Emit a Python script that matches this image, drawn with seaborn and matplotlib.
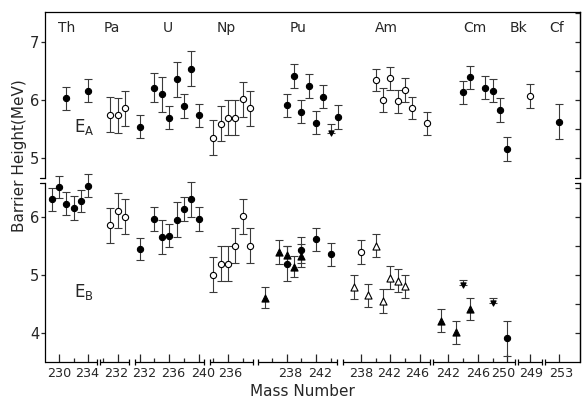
import numpy as np
import pandas as pd
import matplotlib
matplotlib.use("Agg")
import matplotlib.pyplot as plt
import matplotlib.transforms as mtransforms
import seaborn as sns

# ---------------- data ----------------
elements = ["Th", "Pa", "U", "Np", "Pu", "Am", "Cm", "Bk", "Cf"]

# E_A (outer/first barrier)
ea_element = ["Th", "Th",
              "Pa", "Pa", "Pa",
              "U", "U", "U", "U", "U", "U", "U", "U",
              "Np", "Np", "Np", "Np", "Np", "Np",
              "Pu", "Pu", "Pu", "Pu", "Pu", "Pu", "Pu", "Pu",
              "Am", "Am", "Am", "Am", "Am", "Am", "Am",
              "Cm", "Cm", "Cm", "Cm", "Cm", "Cm",
              "Bk", "Cf"]
ea_mass = [231, 234,
           231, 232, 233,
           232, 234, 235, 236, 237, 238, 239, 240,
           234, 235, 236, 237, 238, 239,
           238, 239, 240, 241, 242, 243, 244, 245,
           240, 241, 242, 243, 244, 245, 247,
           244, 245, 247, 248, 249, 250,
           249, 253]
ea_value = [6.03, 6.16,
            5.75, 5.74, 5.86,
            5.54, 6.21, 6.10, 5.70, 6.36, 5.90, 6.54, 5.74,
            5.35, 5.59, 5.70, 5.70, 6.01, 5.86,
            5.91, 6.41, 5.80, 6.24, 5.61, 6.06, 5.43, 5.71,
            6.34, 6.00, 6.37, 5.98, 6.17, 5.87, 5.60,
            6.13, 6.39, 6.21, 6.16, 5.83, 5.16,
            6.07, 5.63]
ea_error = [0.20, 0.20,
            0.30, 0.30, 0.30,
            0.20, 0.25, 0.30, 0.20, 0.30, 0.20, 0.30, 0.20,
            0.30, 0.30, 0.30, 0.30, 0.30, 0.30,
            0.20, 0.20, 0.20, 0.20, 0.20, 0.20, 0.16, 0.20,
            0.19, 0.20, 0.20, 0.20, 0.20, 0.19, 0.20,
            0.20, 0.20, 0.20, 0.20, 0.20, 0.20,
            0.20, 0.30]
ea_kind = ["filled", "filled",
           "open", "open", "open",
           "filled", "filled", "filled", "filled", "filled", "filled", "filled", "filled",
           "open", "open", "open", "open", "open", "open",
           "filled", "filled", "filled", "filled", "filled", "filled", "limit", "filled",
           "open", "open", "open", "open", "open", "open", "open",
           "filled", "filled", "filled", "filled", "filled", "filled",
           "open", "filled"]

# E_B (second barrier)
eb_element = ["Th", "Th", "Th", "Th", "Th", "Th",
              "Pa", "Pa", "Pa",
              "U", "U", "U", "U", "U", "U", "U", "U",
              "Np", "Np", "Np", "Np", "Np", "Np",
              "Pu", "Pu", "Pu", "Pu", "Pu", "Pu", "Pu", "Pu", "Pu",
              "Am", "Am", "Am", "Am", "Am", "Am", "Am", "Am",
              "Cm", "Cm", "Cm", "Cm", "Cm", "Cm"]
eb_mass = [229, 230, 231, 232, 233, 234,
           231, 232, 233,
           232, 234, 235, 236, 237, 238, 239, 240,
           234, 235, 236, 237, 238, 239,
           235, 237, 238, 238, 239, 240, 240, 242, 244,
           237, 238, 239, 240, 241, 242, 243, 244,
           241, 243, 244, 245, 248, 250]
eb_value = [6.30, 6.51, 6.22, 6.15, 6.27, 6.53,
            5.85, 6.10, 6.00,
            5.45, 5.96, 5.65, 5.67, 5.95, 6.13, 6.30, 5.96,
            5.00, 5.19, 5.19, 5.50, 6.01, 5.50,
            4.61, 5.39, 5.34, 5.19, 5.14, 5.43, 5.33, 5.61, 5.35,
            4.79, 5.39, 4.65, 5.50, 4.55, 4.95, 4.90, 4.80,
            4.21, 4.01, 4.83, 4.41, 4.51, 3.91]
eb_error = [0.20, 0.19, 0.20, 0.20, 0.19, 0.20,
            0.30, 0.30, 0.30,
            0.19, 0.20, 0.30, 0.20, 0.30, 0.20, 0.30, 0.21,
            0.30, 0.30, 0.30, 0.30, 0.30, 0.30,
            0.18, 0.20, 0.15, 0.30, 0.18, 0.22, 0.20, 0.20, 0.20,
            0.20, 0.20, 0.20, 0.20, 0.20, 0.20, 0.20, 0.20,
            0.20, 0.20, 0.08, 0.19, 0.09, 0.30]
eb_kind = ["filled"] * 6 + \
          ["open"] * 3 + \
          ["filled"] * 8 + \
          ["open"] * 6 + \
          ["tri", "tri", "tri", "filled", "tri", "filled", "tri", "filled", "filled"] + \
          ["otri", "open", "otri", "otri", "otri", "otri", "otri", "otri"] + \
          ["tri", "tri", "limit", "tri", "limit", "filled"]

# x-axis tick labels per element
tick_labels = [[230, 234], [232], [232, 236, 240], [236], [238, 242],
               [238, 242, 246], [242, 246, 250], [249], [253]]
tick_minor = [[232], [230], [234, 238], [234, 238], [236, 240, 244],
              [240, 244], [244, 248], [], []]

# ---------------- layout constants ----------------
element_shift = [0.0, 6.0, 9.0, 17.0, 23.0, 33.1, 41.0, 45.1, 45.1]
segment_lo = [228.1, 229.55, 231.3, 233.5, 234.1, 235.5, 239.9, 247.3, 251.0]
segment_hi = [235.15, 233.6, 240.8, 239.4, 244.8, 247.4, 251.0, 250.6, 255.8]
label_shift_px = [[0, -1], [-2], [4, 4.5, 4.5], [2.5], [3.5, 3.5],
                  [0, -1.5, -2.5], [0, 0, -4], [1.5], [2]]
name_u = [231.1, 237.2, 244.8, 252.8, 262.5, 274.6, 286.6, 292.6, 297.7]
XMIN, XMAX = 228.1, 300.9
shift_map = dict(zip(elements, element_shift))

sns.set_style("ticks")
plt.rcParams["font.family"] = ["DejaVu Sans"]
plt.rcParams["mathtext.fontset"] = "dejavusans"

fig = plt.figure(figsize=(5.82, 3.98), dpi=100)
ax_top = fig.add_axes([0.0773, 0.552, 0.9192, 0.4186])
ax_bot = fig.add_axes([0.0773, 0.0912, 0.9192, 0.4498])

styles = {
    "filled": dict(marker="o", s=20, face="black"),
    "open": dict(marker="o", s=20, face="white"),
    "tri": dict(marker="^", s=26, face="black"),
    "otri": dict(marker="^", s=26, face="white"),
    "limit": dict(marker="v", s=14, face="black"),
}
ECOL = "#3a3a3a"


def draw(ax, elem, mass, val, err, kind):
    df = pd.DataFrame(dict(element=elem, mass=mass, value=val, err=err, kind=kind))
    df["u"] = df["mass"] + df["element"].map(shift_map)
    df["lo"] = np.where(df["kind"] == "limit", 0.0, df["err"])
    ax.errorbar(df["u"], df["value"], yerr=[df["lo"], df["err"]], fmt="none",
                ecolor=ECOL, elinewidth=0.8, capsize=2.6, capthick=0.8,
                zorder=2, clip_on=False)
    for k, st in styles.items():
        sub = df[df["kind"] == k]
        if len(sub) == 0:
            continue
        sns.scatterplot(data=sub, x="u", y="value", ax=ax, marker=st["marker"],
                        s=st["s"], color=st["face"], edgecolor="black",
                        linewidth=0.8, zorder=3, clip_on=False, legend=False)


draw(ax_top, ea_element, ea_mass, ea_value, ea_error, ea_kind)
draw(ax_bot, eb_element, eb_mass, eb_value, eb_error, eb_kind)

for ax, lo, hi, ticks in [(ax_top, 4.657, 7.515, [5, 6, 7]),
                          (ax_bot, 3.508, 6.583, [4, 5, 6])]:
    ax.patch.set_visible(False)
    ax.set_xlim(XMIN, XMAX)
    ax.set_ylim(lo, hi)
    ax.set_xlabel("")
    ax.set_ylabel("")
    ax.set_yticks(ticks)
    ax.set_yticklabels([str(t) for t in ticks], fontsize=10.5)
    ax.tick_params(axis="y", direction="out", length=3.2, width=0.9, pad=1.0,
                   left=True, right=False)
    for sp in ax.spines.values():
        sp.set_linewidth(0.9)
        sp.set_color("black")
    sec = ax.secondary_yaxis("right")
    sec.set_yticks(np.arange(np.ceil(lo * 2) / 2, hi, 0.5))
    sec.tick_params(direction="in", length=3.5, width=0.9, labelright=False)
    sec.spines["right"].set_linewidth(0.9)

ax_top.spines["bottom"].set_visible(False)
ax_top.tick_params(axis="x", bottom=False, labelbottom=False, top=False)
ax_bot.spines["top"].set_visible(False)
ax_bot.spines["bottom"].set_visible(False)

# broken x axis: segments with end caps
blend = mtransforms.blended_transform_factory(ax_bot.transData, ax_bot.transAxes)
for i, e in enumerate(elements):
    a = segment_lo[i] + element_shift[i]
    b = segment_hi[i] + element_shift[i]
    ax_bot.plot([a, b], [0, 0], color="black", lw=0.9, transform=blend,
                clip_on=False, solid_capstyle="butt")
    caps = []
    if i > 0:
        caps.append(a)
    if i < len(elements) - 1:
        caps.append(b)
    if caps:
        ax_bot.plot(caps, [0] * len(caps), ls="none", marker="|", ms=4.5, mew=0.9,
                    color="black", transform=blend, clip_on=False)

major_u, major_lab, major_off = [], [], []
minor_u = []
for i, e in enumerate(elements):
    for t, off in zip(tick_labels[i], label_shift_px[i]):
        major_u.append(t + element_shift[i])
        major_lab.append(str(t))
        major_off.append(off)
    for t in tick_minor[i]:
        minor_u.append(t + element_shift[i])
ax_bot.set_xticks(major_u)
ax_bot.set_xticklabels(major_lab, fontsize=9.2)
ax_bot.set_xticks(minor_u, minor=True)
ax_bot.tick_params(axis="x", which="major", direction="in", length=6, width=0.9, pad=3.5)
ax_bot.tick_params(axis="x", which="minor", direction="in", length=3, width=0.9)
for lab, off in zip(ax_bot.get_xticklabels(), major_off):
    lab.set_transform(lab.get_transform() +
                      mtransforms.ScaledTranslation(off / 100.0, 0, fig.dpi_scale_trans))

# y-axis break marks
for ax, y in [(ax_top, 0.0), (ax_bot, 1.0)]:
    ax.plot([-0.009, 0.0], [y, y], color="black", lw=0.9, transform=ax.transAxes, clip_on=False)
    ax.plot([1.0, 0.991], [y, y], color="black", lw=0.9, transform=ax.transAxes, clip_on=False)

# element names
for name, u in zip(elements, name_u):
    ax_top.text(u, 7.235, name, ha="center", va="center", fontsize=10)

ax_top.text(232.0, 5.54, r"$\mathregular{E_A}$", ha="left", va="center", fontsize=12)
ax_bot.text(232.0, 4.71, r"$\mathregular{E_B}$", ha="left", va="center", fontsize=12)

fig.text(0.0335, 0.608, "Barrier Height(MeV)", rotation=90, ha="center", va="center",
         fontsize=11)
fig.text(0.519, 0.004, "Mass Number", ha="center", va="baseline", fontsize=11)

fig.savefig("out.png", dpi=100)
